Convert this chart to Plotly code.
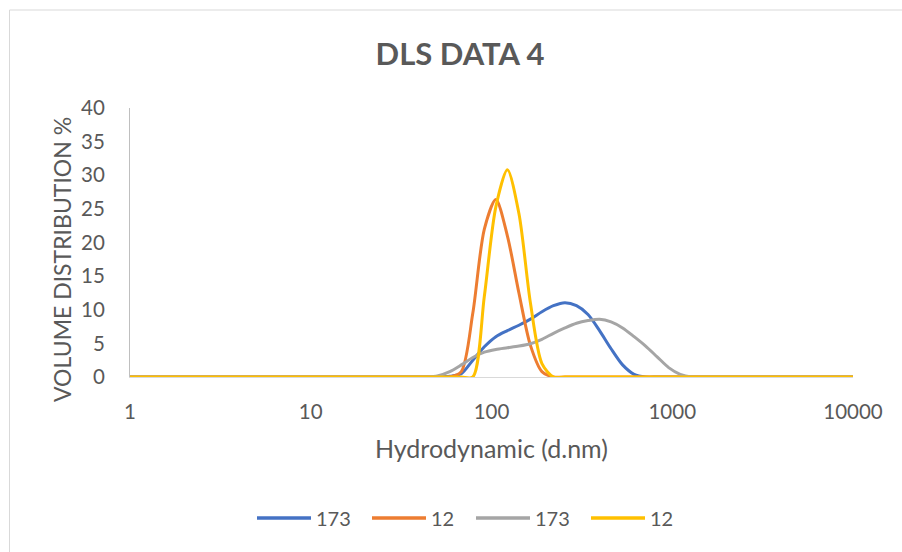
import plotly.graph_objects as go

# Hydrodynamic diameter bins (d.nm)
sizes = [0.4, 0.4632, 0.5365, 0.6213, 0.7195, 0.8332, 0.9649, 1.117, 1.294, 1.499,
         1.736, 2.010, 2.328, 2.696, 3.122, 3.615, 4.187, 4.849, 5.615, 6.503,
         7.531, 8.721, 10.10, 11.70, 13.54, 15.69, 18.17, 21.04, 24.36, 28.21,
         32.67, 37.84, 43.82, 50.75, 58.77, 68.06, 78.82, 91.28, 105.7, 122.4,
         141.8, 164.2, 190.1, 220.2, 255.0, 295.3, 342.0, 396.1, 458.7, 531.2,
         615.1, 712.4, 825.0, 955.4, 1106, 1281, 1484, 1718, 1990, 2305,
         2669, 3091, 3580, 4145, 4801, 5560, 6439, 7456, 8635, 10000]

zeros_head = [0.0] * 33  # bins 0.4 .. 43.82

# series 1 "173" (blue)
s1_173 = zeros_head + [0.0, 0.1, 0.5, 2.5, 4.5, 6.0, 6.9, 7.7, 8.6, 9.7, 10.6, 11.05, 10.6, 9.3,
                       6.9, 4.2, 1.8, 0.4, 0.0] + [0.0] * 18
# series 2 "12" (orange)
s2_12 = zeros_head + [0.0, 0.0, 0.8, 9.5, 22.0, 26.4, 21.0, 12.5, 4.7, 0.8, 0.0, 0.0, 0.0, 0.0,
                      0.0, 0.0, 0.0, 0.0, 0.0] + [0.0] * 18
# series 3 "173" (gray)
s3_173 = [0.0] * 32 + [0.0, 0.2, 0.8, 1.8, 2.9, 3.7, 4.1, 4.35, 4.6, 4.95, 5.6, 6.5, 7.3, 8.0, 8.4,
                       8.6, 8.2, 7.3, 6.0, 4.6, 3.0, 1.4, 0.4, 0.0] + [0.0] * 14
# series 4 "12" (yellow)
s4_12 = zeros_head + [0.0, 0.0, 0.0, 0.0, 12.0, 25.3, 30.8, 24.3, 11.0, 2.0, 0.0, 0.0, 0.0, 0.0,
                      0.0, 0.0, 0.0, 0.0, 0.0] + [0.0] * 18

names = ["173", "12", "173", "12"]
series = [s1_173, s2_12, s3_173, s4_12]
colors = ["#4472C4", "#ED7D31", "#A5A5A5", "#FFC000"]

FONT = "Lato"
TXT = "#595959"

fig = go.Figure()
for nm, ys, c in zip(names, series, colors):
    fig.add_trace(go.Scatter(x=sizes, y=ys, name=nm, mode="lines",
                             line=dict(color=c, width=3, shape="spline", smoothing=0.8),
                             showlegend=False))

L, R, T, B = 130, 853, 108, 377
W, H = 902, 552

def px2paper(px, py):
    return (px - L) / (R - L), (B - py) / (B - T)

fig.update_layout(
    width=W, height=H,
    margin=dict(l=L, r=W - R, t=T, b=H - B),
    paper_bgcolor="white", plot_bgcolor="white",
    font=dict(family=FONT, color=TXT, size=20),
    title=dict(text="<b>DLS DATA 4</b>", x=460 / W, xanchor="center",
               y=1 - 54 / H, yanchor="middle", yref="container",
               font=dict(family=FONT, size=31, color=TXT)),
    showlegend=False,
)

fig.update_xaxes(type="log", range=[0, 4], showgrid=False, zeroline=False,
                 showline=True, linecolor="#D9D9D9", linewidth=1,
                 tickvals=[1, 10, 100, 1000, 10000],
                 ticktext=["1", "10", "100", "1000", "10000"],
                 ticks="", ticklabelstandoff=16,
                 tickfont=dict(family=FONT, size=20.5, color=TXT))
fig.update_yaxes(range=[0, 40], showgrid=False, zeroline=False,
                 showline=True, linecolor="#BFBFBF", linewidth=1,
                 tickvals=[0, 5, 10, 15, 20, 25, 30, 35, 40],
                 ticks="", ticklabelstandoff=20,
                 tickfont=dict(family=FONT, size=20.5, color=TXT))

ax, ay = px2paper(62, 260)
fig.add_annotation(text="VOLUME DISTRIBUTION %", x=ax, y=ay, xref="paper", yref="paper",
                   textangle=-90, showarrow=False, xanchor="center", yanchor="middle",
                   font=dict(family=FONT, size=23, color=TXT))
bx, by = px2paper(491, 448)
fig.add_annotation(text="Hydrodynamic (d.nm)", x=bx, y=by, xref="paper", yref="paper",
                   showarrow=False, xanchor="center", yanchor="middle",
                   font=dict(family=FONT, size=25, color=TXT))

# legend (drawn manually so the sample lines match the original length)
leg_line_x = [257, 372, 476, 591]
leg_y = 518
for nm, c, lx in zip(names, colors, leg_line_x):
    x0p, yp = px2paper(lx, leg_y)
    x1p, _ = px2paper(lx + 54, leg_y)
    fig.add_shape(type="line", xref="paper", yref="paper", x0=x0p, x1=x1p, y0=yp, y1=yp,
                  line=dict(color=c, width=3.5))
    tx, _ = px2paper(lx + 57, leg_y)
    fig.add_annotation(text=nm, x=tx, y=yp, xref="paper", yref="paper", showarrow=False,
                       xanchor="left", yanchor="middle",
                       font=dict(family=FONT, size=20, color=TXT))

# chart-area border
x0, y1 = px2paper(9.5, 10)
fig.add_shape(type="rect", xref="paper", yref="paper", x0=x0, y0=-3, x1=3, y1=y1,
              line=dict(color="#D9D9D9", width=1), layer="below")

fig.write_html("out.html")
